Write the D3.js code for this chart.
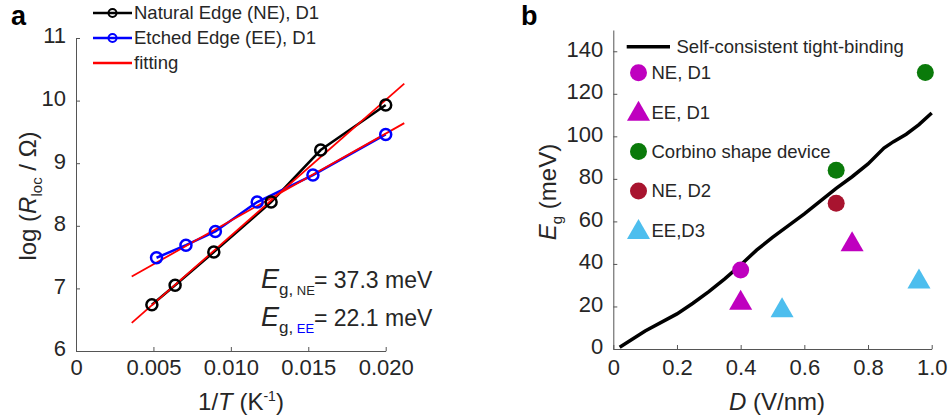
<!DOCTYPE html>
<head>
    <meta charset="utf-8" />
    <script src="https://d3js.org/d3.v7.min.js"></script>
    <style>
        body { margin: 0; background: #fff; }
        text { font-family: "Liberation Sans", Arial, sans-serif; fill: #262626; }
        .axis path, .axis line { stroke: #555; }
        .axis text { font-size: 22px; fill: #262626; font-family: "Liberation Sans", Arial, sans-serif; }
    </style>
</head>
<body>
<script>
    // panel a : log(R) vs 1/T
    var neX = [0.0049, 0.0064, 0.0089, 0.0126, 0.0158, 0.0200];
    var neY = [6.74, 7.05, 7.58, 8.38, 9.21, 9.93];
    var eeX = [0.0052, 0.0071, 0.0090, 0.0117, 0.0153, 0.0200];
    var eeY = [7.49, 7.69, 7.91, 8.38, 8.81, 9.46];
    var fitX = [0.0036, 0.0212];
    var fitNE = [6.45, 10.27];
    var fitEE = [7.19, 9.64];
    var aTicksX = [0, 0.005, 0.010, 0.015, 0.020];
    var aTicksY = [6, 7, 8, 9, 10, 11];

    // panel b : gap vs displacement field
    var theoryD = [0.02, 0.1, 0.2, 0.25, 0.3, 0.35, 0.4, 0.45, 0.5, 0.55, 0.6, 0.65, 0.7, 0.75, 0.8, 0.85, 0.88, 0.92, 0.96, 1.0];
    var theoryE = [0.8, 8.5, 16.5, 21.5, 27, 33, 39.5, 46.5, 52.5, 58, 63.5, 69.5, 75.5, 81, 87, 94.5, 97.5, 101, 105.5, 111];
    var neD1D = [0.40], neD1E = [37.2];
    var eeD1D = [0.40, 0.75], eeD1E = [22.5, 50];
    var corbD = [0.70, 0.98], corbE = [84, 130];
    var neD2D = [0.70], neD2E = [68.5];
    var eeD3D = [0.53, 0.96], eeD3E = [19, 32.5];
    var bTicksX = [0, 0.2, 0.4, 0.6, 0.8, 1.0];
    var bTicksY = [0, 20, 40, 60, 80, 100, 120, 140];

    var width = 949, height = 418;
    var svg = d3.select("body").append("svg")
        .attr("width", width).attr("height", height);

    function zip(xs, ys) { return xs.map(function (x, i) { return [x, ys[i]]; }); }

    // ---------- panel a ----------
    var xa = d3.scaleLinear().domain([0, 0.020]).range([76, 385.7]);
    var ya = d3.scaleLinear().domain([6, 11]).range([351, 38]);
    var ga = svg.append("g");

    ga.append("g").attr("class", "axis")
        .attr("transform", "translate(0," + ya(6) + ")")
        .call(d3.axisBottom(xa).tickValues(aTicksX).tickSizeInner(-4).tickSizeOuter(0).tickPadding(8)
            .tickFormat(function (d) { return d === 0 ? "0" : d3.format(".3f")(d); }));
    ga.append("g").attr("class", "axis")
        .attr("transform", "translate(" + xa(0) + ",0)")
        .call(d3.axisLeft(ya).tickValues(aTicksY).tickSizeInner(-4).tickSizeOuter(0).tickPadding(10)
            .tickFormat(d3.format("d")))
        .selectAll("text").attr("dy", "0.22em");

    var linea = d3.line().x(function (d) { return xa(d[0]); }).y(function (d) { return ya(d[1]); });

    ga.append("path").datum(zip(neX, neY)).attr("d", linea)
        .attr("fill", "none").attr("stroke", "#000").attr("stroke-width", 2.5);
    ga.append("path").datum(zip(eeX, eeY)).attr("d", linea)
        .attr("fill", "none").attr("stroke", "#0000ff").attr("stroke-width", 2.5);
    ga.append("path").datum(zip(fitX, fitNE)).attr("d", linea)
        .attr("fill", "none").attr("stroke", "#ff0000").attr("stroke-width", 1.8);
    ga.append("path").datum(zip(fitX, fitEE)).attr("d", linea)
        .attr("fill", "none").attr("stroke", "#ff0000").attr("stroke-width", 1.8);

    ga.selectAll(".ne").data(zip(neX, neY)).join("circle")
        .attr("cx", function (d) { return xa(d[0]); }).attr("cy", function (d) { return ya(d[1]); })
        .attr("r", 5.5).attr("fill", "none").attr("stroke", "#000").attr("stroke-width", 2.5);
    ga.selectAll(".ee").data(zip(eeX, eeY)).join("circle")
        .attr("cx", function (d) { return xa(d[0]); }).attr("cy", function (d) { return ya(d[1]); })
        .attr("r", 5.5).attr("fill", "none").attr("stroke", "#0000ff").attr("stroke-width", 2.5);

    // legend a
    var legA = [
        { label: "Natural Edge (NE), D1", color: "#000", marker: true },
        { label: "Etched Edge (EE), D1", color: "#0000ff", marker: true },
        { label: "fitting", color: "#ff0000", marker: false }
    ];
    legA.forEach(function (d, i) {
        var y = 13 + i * 25;
        ga.append("line").attr("x1", 93).attr("x2", 132).attr("y1", y).attr("y2", y)
            .attr("stroke", d.color).attr("stroke-width", 2.5);
        if (d.marker) {
            ga.append("circle").attr("cx", 112.5).attr("cy", y).attr("r", 4)
                .attr("fill", "none").attr("stroke", d.color).attr("stroke-width", 2);
        }
        ga.append("text").attr("x", 134).attr("y", y).attr("dy", "0.35em")
            .style("font-size", "18.5px").text(d.label);
    });

    // axis titles a
    ga.append("text").attr("transform", "translate(36,196) rotate(-90)")
        .attr("text-anchor", "middle").style("font-size", "24px")
        .call(function (t) {
            t.append("tspan").text("log (");
            t.append("tspan").style("font-style", "italic").text("R");
            t.append("tspan").style("font-size", "15px").attr("dy", 6).text("loc");
            t.append("tspan").attr("dy", -6).text(" / Ω)");
        });
    ga.append("text").attr("x", 241).attr("y", 410)
        .attr("text-anchor", "middle").style("font-size", "24px")
        .call(function (t) {
            t.append("tspan").text("1/");
            t.append("tspan").style("font-style", "italic").text("T");
            t.append("tspan").text(" (K");
            t.append("tspan").style("font-size", "14px").attr("dy", -9).text("-1");
            t.append("tspan").attr("dy", 9).text(")");
        });

    // gap annotations
    var notes = [
        { sub: "NE", subColor: "#262626", value: "= 37.3 meV", y: 288 },
        { sub: "EE", subColor: "#0000ff", value: "= 22.1 meV", y: 326 }
    ];
    notes.forEach(function (d) {
        var t = ga.append("text").attr("x", 261).attr("y", d.y);
        t.append("tspan").style("font-size", "27px").style("font-style", "italic").text("E");
        t.append("tspan").style("font-size", "17px").attr("dy", 7).text("g,");
        t.append("tspan").style("font-size", "13px").style("fill", d.subColor).text(" " + d.sub);
        ga.append("text").attr("x", 314).attr("y", d.y).style("font-size", "23px").text(d.value);
    });

    // ---------- panel b ----------
    var xb = d3.scaleLinear().domain([0, 1]).range([613.3, 931.7]);
    var yb = d3.scaleLinear().domain([0, 150]).range([349, 30]);
    var gb = svg.append("g");

    gb.append("g").attr("class", "axis")
        .attr("transform", "translate(0," + yb(0) + ")")
        .call(d3.axisBottom(xb).tickValues(bTicksX).tickSizeInner(-4).tickSizeOuter(0).tickPadding(10)
            .tickFormat(function (d) { return d === 0 ? "0" : d3.format(".1f")(d); }));
    gb.append("g").attr("class", "axis")
        .attr("transform", "translate(" + xb(0) + ",0)")
        .call(d3.axisLeft(yb).tickValues(bTicksY).tickSizeInner(-4).tickSizeOuter(0).tickPadding(10)
            .tickFormat(d3.format("d")))
        .selectAll("text").attr("dy", "0.22em");

    var lineb = d3.line().x(function (d) { return xb(d[0]); }).y(function (d) { return yb(d[1]); });
    gb.append("path").datum(zip(theoryD, theoryE)).attr("d", lineb)
        .attr("fill", "none").attr("stroke", "#000").attr("stroke-width", 3.5);

    var magenta = "#bf00bf", green = "#0a7a0a", darkred = "#a8142f", lightblue = "#4dbeee";
    var circ = function (g, xs, ys, color) {
        g.selectAll(null).data(zip(xs, ys)).join("circle")
            .attr("cx", function (d) { return xb(d[0]); }).attr("cy", function (d) { return yb(d[1]); })
            .attr("r", 8.5).attr("fill", color);
    };
    var tri = d3.symbol().type(d3.symbolTriangle).size(230);
    var tris = function (g, xs, ys, color) {
        g.selectAll(null).data(zip(xs, ys)).join("path")
            .attr("d", tri)
            .attr("transform", function (d) { return "translate(" + xb(d[0]) + "," + (yb(d[1]) + 2) + ")"; })
            .attr("fill", color);
    };
    circ(gb, corbD, corbE, green);
    circ(gb, neD2D, neD2E, darkred);
    circ(gb, neD1D, neD1E, magenta);
    tris(gb, eeD1D, eeD1E, magenta);
    tris(gb, eeD3D, eeD3E, lightblue);

    // legend b
    gb.append("line").attr("x1", 626.7).attr("x2", 670).attr("y1", 46.7).attr("y2", 46.7)
        .attr("stroke", "#000").attr("stroke-width", 3.5);
    gb.append("text").attr("x", 676.5).attr("y", 46.7).attr("dy", "0.35em")
        .style("font-size", "18.5px").text("Self-consistent tight-binding");
    var legB = [
        { label: "NE, D1", color: magenta, shape: "circle" },
        { label: "EE, D1", color: magenta, shape: "tri" },
        { label: "Corbino shape device", color: green, shape: "circle" },
        { label: "NE, D2", color: darkred, shape: "circle" },
        { label: "EE,D3", color: lightblue, shape: "tri" }
    ];
    legB.forEach(function (d, i) {
        var y = 72.7 + i * 39.4;
        if (d.shape === "circle") {
            gb.append("circle").attr("cx", 638.5).attr("cy", y).attr("r", 8.5).attr("fill", d.color);
        } else {
            gb.append("path").attr("d", tri).attr("transform", "translate(638.5," + (y + 2) + ")").attr("fill", d.color);
        }
        gb.append("text").attr("x", 651.5).attr("y", y).attr("dy", "0.35em")
            .style("font-size", "18.5px").text(d.label);
    });

    // axis titles b
    gb.append("text").attr("transform", "translate(556,192) rotate(-90)")
        .attr("text-anchor", "middle").style("font-size", "24px")
        .call(function (t) {
            t.append("tspan").style("font-style", "italic").text("E");
            t.append("tspan").style("font-size", "15px").attr("dy", 6).text("g");
            t.append("tspan").attr("dy", -6).text(" (meV)");
        });
    gb.append("text").attr("x", 777).attr("y", 410)
        .attr("text-anchor", "middle").style("font-size", "24px")
        .call(function (t) {
            t.append("tspan").style("font-style", "italic").text("D");
            t.append("tspan").text(" (V/nm)");
        });

    // panel letters
    svg.append("text").attr("x", 11).attr("y", 25).style("font-size", "27px").style("font-weight", "bold")
        .style("fill", "#000").text("a");
    svg.append("text").attr("x", 521).attr("y", 25).style("font-size", "27px").style("font-weight", "bold")
        .style("fill", "#000").text("b");
</script>
</body>
